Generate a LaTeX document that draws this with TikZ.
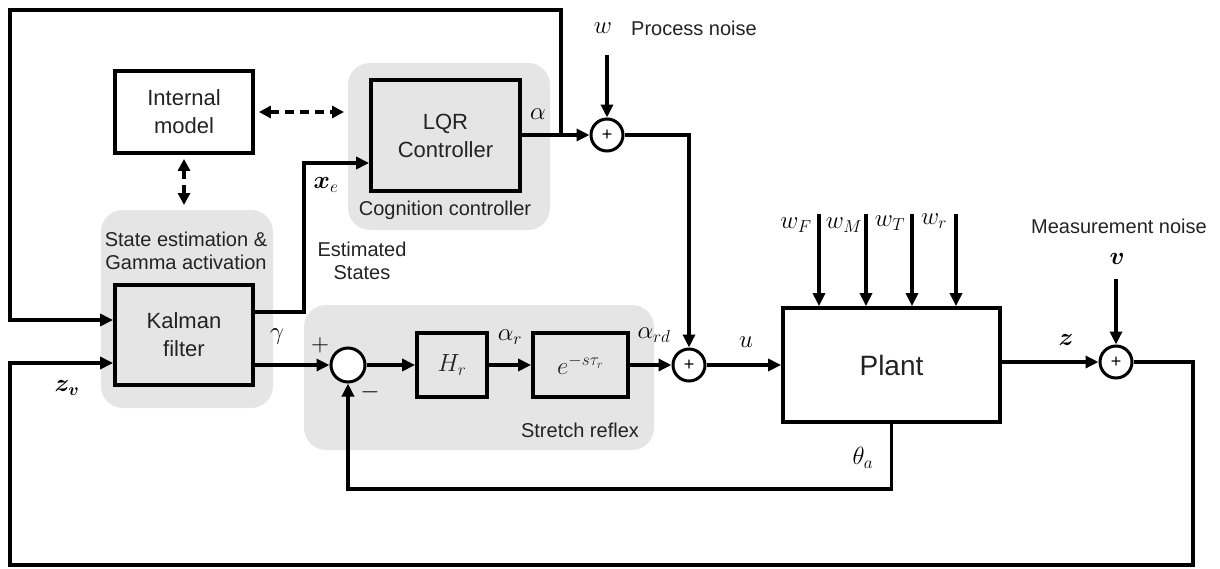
\documentclass[tikz,border=0pt]{standalone}
\usepackage{fontspec}
\setmainfont{Liberation Sans}
\usepackage{amsmath,bm}
\usetikzlibrary{arrows.meta}
\definecolor{gfill}{RGB}{230,229,230}
\definecolor{txt}{RGB}{35,35,35}
\tikzset{
  arr/.style={line width=3.5pt,-{Triangle[length=13pt,width=12pt]}},
  darr/.style={line width=3.5pt,dash pattern=on 9pt off 6pt,{Triangle[length=12pt,width=12pt]}-{Triangle[length=12pt,width=12pt]}},
  blk/.style={draw,line width=3.8pt,fill=gfill,align=center,inner sep=0pt,font=\fontsize{22}{28}\selectfont,text=txt},
  sumc/.style={circle,draw,line width=3pt,minimum size=32pt,inner sep=0pt,fill=white,font=\fontsize{18}{18}\selectfont},
  lbl/.style={font=\fontsize{20}{23}\selectfont,text=txt,align=center,inner sep=0pt},
  mlbl/.style={font=\fontsize{26}{28}\selectfont,inner sep=0pt},
}
\begin{document}
\begin{tikzpicture}[x=1pt,y=-1pt]
\useasboundingbox (0,0) rectangle (1220,568);
% gray regions
\fill[gfill,rounded corners=22pt] (348,63) rectangle (550,230);
\fill[gfill,rounded corners=22pt] (101,210) rectangle (273,408);
\fill[gfill,rounded corners=22pt] (304,305) rectangle (654,450);
% blocks
\node[blk,fill=white,minimum width=138pt,minimum height=82pt] (im) at (184,112) {Internal\\model};
\node[blk,minimum width=149pt,minimum height=111pt] (lqr) at (445.5,135.5) {LQR\\Controller};
\node[blk,minimum width=138pt,minimum height=100pt] (kal) at (184,335) {Kalman\\filter};
\node[blk,minimum width=70pt,minimum height=64pt,font=\fontsize{26}{28}\selectfont] (hr) at (452,365) {$H_r$};
\node[blk,minimum width=95pt,minimum height=64pt,font=\fontsize{26}{28}\selectfont] (ed) at (580.5,365) {$e^{-s\tau_r}$};
\node[blk,fill=white,minimum width=217pt,minimum height=114pt,font=\fontsize{28}{30}\selectfont] (plant) at (891.5,365) {Plant};
% sums
\node[sumc] (s1) at (607,135) {+};
\node[sumc] (s2) at (689,365) {+};
\node[sumc] (s3) at (1116,362) {+};
\node[sumc,minimum size=34pt] (sm) at (348,365) {};
% coordinates
\coordinate (j1) at (561,135);
\coordinate (tl) at (10,10);
\coordinate (br) at (1193,565);
\coordinate (bl) at (10,565);
\coordinate (xc) at (304,312);
\coordinate (wtop) at (607,55);
\coordinate (vtop) at (1116,279);
\coordinate (dh) at (344,112);
\coordinate (dv) at (184,205);
\coordinate (pf) at (819,214);
\coordinate (pm) at (866,214);
\coordinate (pt) at (912,214);
\coordinate (pr) at (956,214);
% connectors
\draw[arr] (j1) |- (tl) |- ([yshift=15pt]kal.west);
\draw[arr] (lqr.east |- s1) -- (s1.west);
\draw[arr] (wtop) -- (s1.north);
\draw[arr] (s1.east) -| (s2.north);
\draw[arr] (ed.east) -- (s2.west);
\draw[arr] (s2.east) -- (plant.west |- s2);
\foreach \c in {pf,pm,pt,pr} \draw[arr] (\c) -- (\c |- plant.north);
\draw[arr] (plant.east |- s3) -- (s3.west);
\draw[arr] (vtop) -- (s3.north);
\draw[arr] (s3.east) -| (br) -- (bl) |- ([yshift=-28pt]kal.west);
\draw[arr] (plant.south) -- ++(0,65) -| (sm.south);
\draw[arr] (kal.east |- sm) -- (sm.west);
\draw[arr] (sm.east) -- (hr.west);
\draw[arr] (hr.east) -- (ed.west);
\draw[arr] ([yshift=23pt]kal.east) -- (xc) |- ([yshift=-27.5pt]lqr.west);
\draw[darr] ([xshift=4pt]im.east) -- (dh);
\draw[darr] ([yshift=-4pt]im.south) -- (dv);
% labels
\node[mlbl] (la) at (538,114) {$\alpha$};
\node[mlbl] (lxe) at (326,185) {$\bm{x}_e$};
\node[lbl] (lest) at (362,261) {Estimated\\States};
\node[lbl] (lse) at (186,251) {State estimation \&\\Gamma activation};
\node[lbl] (lcc) at (445,210) {Cognition controller};
\node[mlbl] (lg) at (277,337) {$\gamma$};
\node[mlbl] (lp) at (320,345) {$+$};
\node[mlbl] (lmi) at (370,392) {$-$};
\node[mlbl] (lzv) at (67,388) {$\bm{z}_{\bm{v}}$};
\node[mlbl] (lar) at (510,337) {$\alpha_r$};
\node[mlbl] (lard) at (654,335) {$\alpha_{rd}$};
\node[mlbl] (lu) at (746,342) {$u$};
\node[mlbl] (lw) at (603,28) {$w$};
\node[lbl] (lpn) at (694,28) {Process noise};
\node[mlbl] (lwf) at (796,225) {$w_F$};
\node[mlbl] (lwm) at (844,225) {$w_M$};
\node[mlbl] (lwt) at (890,223) {$w_T$};
\node[mlbl] (lwr) at (934,221) {$w_r$};
\node[lbl] (lmn) at (1119,226) {Measurement noise};
\node[mlbl] (lv) at (1117,259) {$\bm{v}$};
\node[mlbl] (lz) at (1066,340) {$\bm{z}$};
\node[mlbl] (lth) at (863,458) {$\theta_a$};
\node[lbl] (lsr) at (580,430) {Stretch reflex};
\end{tikzpicture}
\end{document}
